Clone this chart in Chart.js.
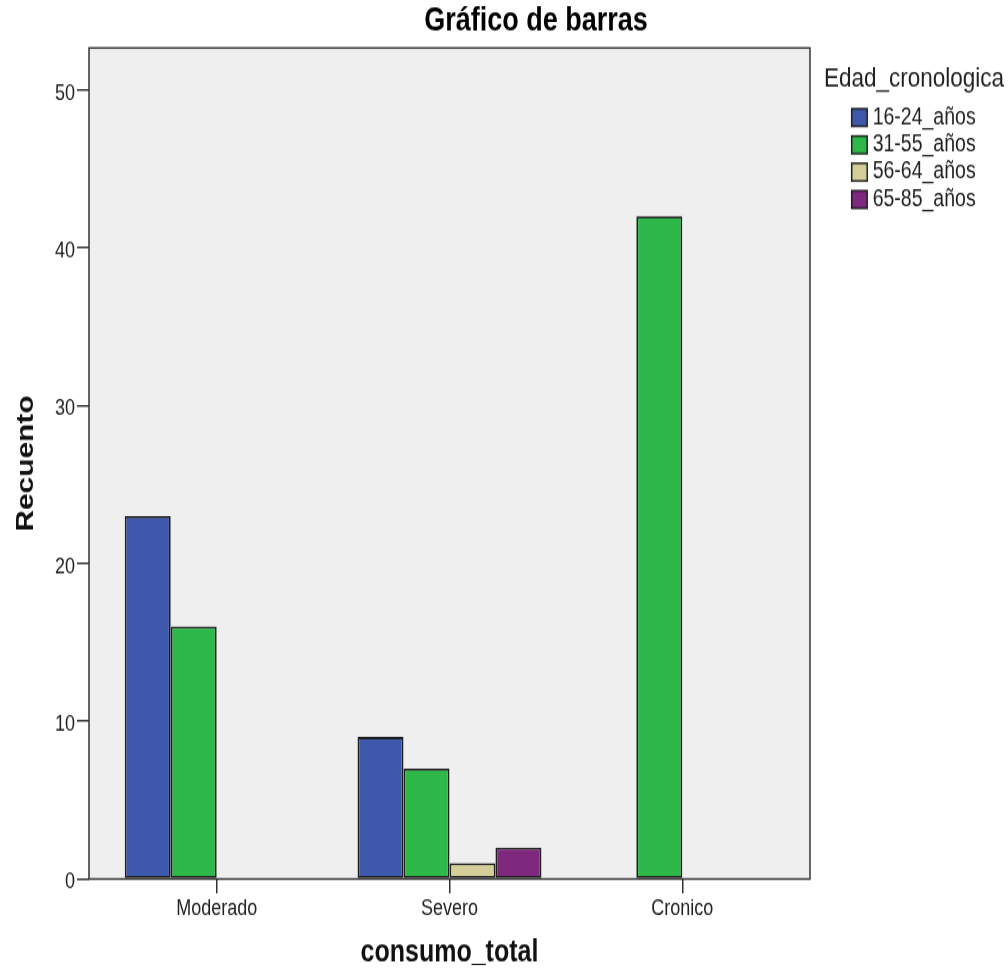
<!DOCTYPE html>
<html lang="es">
<head>
<meta charset="utf-8">
<title>Gráfico de barras</title>
<script src="https://cdn.jsdelivr.net/npm/chart.js@4.4.1/dist/chart.umd.min.js"></script>
<style>
  html, body { margin: 0; padding: 0; background: #fff; }
  #wrap { position: relative; width: 1008px; height: 976px; overflow: hidden; }
  /* the chart is laid out on a 1072x800 canvas and shown stretched to full height */
  #chart { position: absolute; left: 0; top: 0; display: block; transform: scaleY(1.22); transform-origin: 0 0; }
</style>
</head>
<body>
<div id="wrap"><canvas id="chart" width="1072" height="800"></canvas></div>
<script>
// ---- data -------------------------------------------------------------
const categories = ['Moderado', 'Severo', 'Cronico'];
const ageGroups  = ['16-24_años', '31-55_años', '56-64_años', '65-85_años'];
const edad16a24  = [23, 9, null];
const edad31a55  = [16, 7, 42];
const edad56a64  = [null, 1, null];
const edad65a85  = [null, 2, null];
const yTickStep  = 10;

// ---- styling ----------------------------------------------------------
const FONT = "'Liberation Sans', Arial, Helvetica, sans-serif";
Chart.defaults.font.family = FONT;
Chart.defaults.color = '#222';

const seriesValues = [edad16a24, edad31a55, edad56a64, edad65a85];
const fills = ['#3e58ab', '#2fb84a', '#d4cf98', '#7e287e'];
const outline = '#1e1e1e';

// x runs in category units; the framed plot spans half a slot (plus a margin) each side
const xEdge = [-0.5485, 2.5485];
const xMax = 3.0297;
const yMax = 52.67;
const legendLeft = 824;

const datasets = ageGroups.map((name, k) => ({
  label: name,
  data: seriesValues[k]
    .map((v, i) => ({ x: i, y: v }))
    .filter(p => p.y !== null),
  backgroundColor: fills[k],
  borderColor: outline,
  borderWidth: 1.8,
  borderSkipped: false,
  categoryPercentage: 0.79,
  barPercentage: 1
}));

// legend swatch: an outlined square sitting at the right end of its slot
function swatch(color) {
  const c = document.createElement('canvas');
  c.width = 48; c.height = 18;
  const g = c.getContext('2d');
  g.fillStyle = color;
  g.fillRect(30, 1, 17, 16);
  g.strokeStyle = outline;
  g.lineWidth = 1.5;
  g.strokeRect(30.75, 1.75, 15.5, 14.5);
  return c;
}
const swatches = fills.map(swatch);

// grey plot background, dark frame, axis title under the frame, legend column
const plotFrame = {
  id: 'plotFrame',
  afterLayout(chart) {
    const x = chart.scales.x;
    x.right = x.getPixelForValue(xEdge[1]);
    x.width = x.right - x.left;
    const lg = chart.legend;
    lg.left = legendLeft;
    lg.width = lg.right - lg.left;
  },
  beforeDraw(chart) {
    const { ctx, scales: { x, y } } = chart;
    const l = x.getPixelForValue(xEdge[0]);
    const r = x.getPixelForValue(xEdge[1]);
    const t = y.getPixelForValue(yMax);
    const b = y.getPixelForValue(0);
    ctx.save();
    ctx.fillStyle = '#efefef';
    ctx.fillRect(l, t, r - l, b - t);
    ctx.restore();
  },
  afterDatasetsDraw(chart) {
    const { ctx, scales: { x, y } } = chart;
    const l = x.getPixelForValue(xEdge[0]);
    const r = x.getPixelForValue(xEdge[1]);
    const t = y.getPixelForValue(yMax);
    const b = y.getPixelForValue(0);
    ctx.save();
    ctx.strokeStyle = '#333';
    ctx.lineWidth = 1.5;
    ctx.strokeRect(l, t, r - l, b - t);
    ctx.restore();
  }
};

new Chart(document.getElementById('chart'), {
  type: 'bar',
  data: { datasets },
  plugins: [plotFrame],
  options: {
    responsive: false,
    devicePixelRatio: 1,
    animation: false,
    layout: { padding: 0 },
    scales: {
      x: {
        type: 'linear',
        min: xEdge[0],
        max: xMax,
        offset: false,
        afterBuildTicks: s => { s.ticks = categories.map((c, i) => ({ value: i })); },
        afterFit: s => { s.height = 79.5; },
        ticks: {
          callback: v => categories[v],
          autoSkip: false,
          maxRotation: 0,
          padding: 1.6,
          font: { size: 18 },
          color: '#222'
        },
        grid: { offset: false, drawOnChartArea: false, tickLength: 11.7, color: '#333', lineWidth: 1.5 },
        border: { display: false },
        title: {
          display: true,
          text: 'consumo_total',
          font: { size: 25, weight: 'bold' },
          color: '#111',
          padding: { top: 0, bottom: 4.1 }
        }
      },
      y: {
        type: 'linear',
        min: 0,
        max: yMax,
        afterFit: s => { s.width = 89; },
        ticks: {
          stepSize: yTickStep,
          includeBounds: false,
          padding: 2,
          labelOffset: 3,
          font: { size: 18 },
          color: '#222'
        },
        grid: { drawOnChartArea: false, tickLength: 12, color: '#333', lineWidth: 1.5 },
        border: { display: false },
        title: {
          display: true,
          text: 'Recuento',
          font: { size: 24.5, weight: 'bold' },
          color: '#111',
          padding: { top: 11.8, bottom: 0 }
        }
      }
    },
    plugins: {
      title: {
        display: true,
        text: 'Gráfico de barras',
        font: { size: 27, weight: 'bold' },
        color: '#000',
        padding: { top: 1.7, bottom: 5.2 }
      },
      legend: {
        position: 'right',
        align: 'start',
        maxWidth: 150,
        title: {
          display: true,
          text: 'Edad_cronologica',
          position: 'start',
          font: { size: 22.5 },
          color: '#222',
          padding: { top: 53.35, bottom: 3.3 }
        },
        labels: {
          usePointStyle: true,
          pointStyleWidth: 36,
          boxHeight: 16,
          padding: 2.9,
          font: { size: 19.5 },
          color: '#222',
          generateLabels: chart =>
            Chart.defaults.plugins.legend.labels.generateLabels(chart)
              .map((item, k) => Object.assign(item, { pointStyle: swatches[k] }))
        }
      },
      tooltip: { enabled: false }
    }
  }
});
</script>
</body>
</html>
